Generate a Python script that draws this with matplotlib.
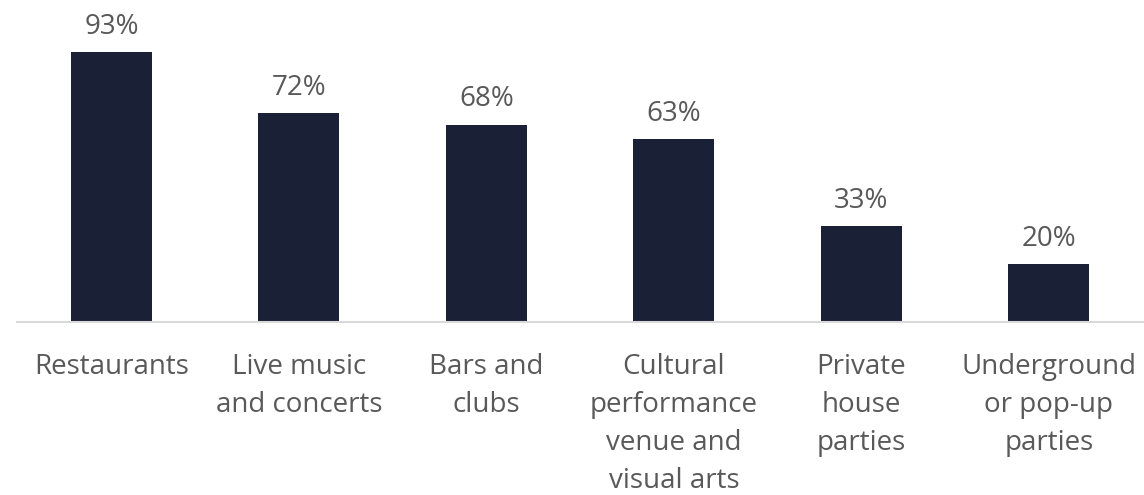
import matplotlib.pyplot as plt

# Share of respondents by venue type
categories = [
    "Restaurants",
    "Live music\nand concerts",
    "Bars and\nclubs",
    "Cultural\nperformance\nvenue and\nvisual arts",
    "Private\nhouse\nparties",
    "Underground\nor pop-up\nparties",
]
values = [93, 72, 68, 63, 33, 20]

plt.rcParams['font.family'] = ['Open Sans', 'DejaVu Sans']

bar_color = '#1a2035'
text_color = '#595959'

fig = plt.figure(figsize=(11.44, 4.95), dpi=100)
ax = fig.add_axes([17 / 1144, 1 - 322 / 495, 1 - 17 / 1144, 322 / 495])

x = list(range(len(categories)))
bars = ax.bar(x, values, width=0.432, color=bar_color)

for xi, v in zip(x, values):
    ax.annotate(f"{v}%", (xi, v), xytext=(0, 8), textcoords='offset points',
                ha='center', va='bottom', fontsize=20, color=text_color)

ax.set_xlim(-0.504, 5.507)
ax.set_ylim(0, 110.9)
ax.set_xticks(x)
ax.set_xticklabels(categories, fontsize=20, color=text_color, linespacing=1.48)
ax.tick_params(axis='x', length=0, pad=22.5)
ax.set_yticks([])

for side in ['top', 'right', 'left']:
    ax.spines[side].set_visible(False)
ax.spines['bottom'].set_color('#d9d9d9')
ax.spines['bottom'].set_linewidth(1.5)

fig.savefig('out.png', dpi=100)
